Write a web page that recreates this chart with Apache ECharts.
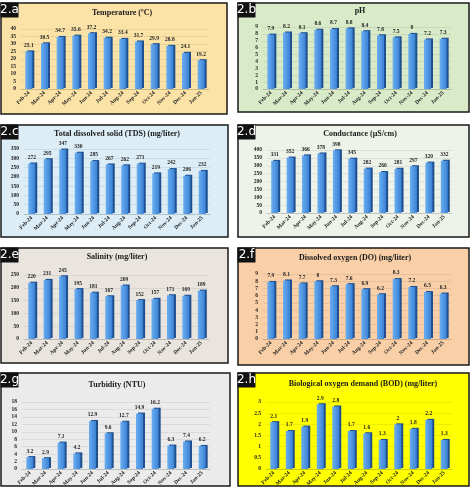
<!DOCTYPE html>
<html>
<head>
<meta charset="utf-8">
<script src="https://cdn.jsdelivr.net/npm/echarts@6/dist/echarts.min.js"></script>
<style>
  html, body { margin: 0; padding: 0; background: #fff; }
  #chart { width: 470px; height: 496px; }
</style>
</head>
<body>
<div id="chart"></div>
<script>
const months = ['Feb-24', 'Mar-24', 'Apr-24', 'May-24', 'Jun-24', 'Jul-24', 'Aug-24', 'Sep-24', 'Oct-24', 'Nov-24', 'Dec-24', 'Jan-25'];

const temperature = [25.1, 30.5, 34.7, 35.6, 37.2, 34.2, 33.4, 31.7, 29.9, 28.8, 24.1, 19.2];
const ph = [7.9, 8.2, 8.1, 8.6, 8.7, 8.8, 8.4, 7.8, 7.5, 8, 7.2, 7.3];
const tds = [272, 295, 347, 330, 285, 267, 262, 271, 219, 242, 206, 232];
const conductance = [331, 352, 366, 378, 398, 345, 282, 260, 281, 297, 320, 332];
const salinity = [220, 231, 245, 195, 181, 167, 209, 152, 157, 171, 169, 189];
const dissolvedOxygen = [7.9, 8.1, 7.7, 8, 7.3, 7.6, 6.9, 6.2, 8.3, 7.2, 6.5, 6.3];
const turbidity = [3.2, 2.9, 7.1, 4.2, 12.9, 9.6, 12.7, 14.9, 16.2, 6.3, 7.4, 6.2];
const bod = [2.1, 1.7, 1.9, 2.9, 2.8, 1.7, 1.6, 1.3, 2, 1.8, 2.2, 1.3];

const titles = ['Temperature (ºC)', 'pH', 'Total dissolved solid (TDS) (mg/liter)', 'Conductance (µS/cm)',
  'Salinity (mg/liter)', 'Dissolved oxygen (DO) (mg/liter)', 'Turbidity (NTU)', 'Biological oxygen demand (BOD) (mg/liter)'];
const panelTags = ['2.a', '2.b', '2.c', '2.d', '2.e', '2.f', '2.g', '2.h'];
const yMax = [40, 9, 350, 400, 250, 9, 18, 3];
const yStep = [5, 1, 50, 50, 50, 1, 2, 0.5];
const seriesData = [temperature, ph, tds, conductance, salinity, dissolvedOxygen, turbidity, bod];

// layout of each panel: box + plot area + title centre
const panels = [
  { box: [1, 3, 226, 111], bg: '#fbe3a7', grid: [21, 29, 188, 60], title: [122, 13] },
  { box: [238, 3, 231, 109], bg: '#d8eac8', grid: [263, 27, 188, 62], title: [360, 11] },
  { box: [1, 125, 227, 112], bg: '#dcedf6', grid: [24, 149, 186, 65], title: [117, 134] },
  { box: [238, 125, 231, 112], bg: '#eef3ea', grid: [267, 150, 185, 63], title: [360, 134] },
  { box: [1, 248, 227, 115], bg: '#e9e5de', grid: [24, 275, 185, 64], title: [117, 257] },
  { box: [238, 248, 231, 117], bg: '#f8cfa7', grid: [263, 274, 188, 65], title: [355, 258] },
  { box: [1, 373, 229, 113], bg: '#ebebeb', grid: [22, 402, 188, 67], title: [117, 385] },
  { box: [238, 373, 231, 113], bg: '#ffff00', grid: [266, 402, 186, 67], title: [363, 384] }
];

const serif = 'Liberation Serif';
var chart = echarts.init(document.getElementById('chart'));

const grids = [], xAxes = [], yAxes = [], series = [], graphics = [];
panels.forEach(function (p, i) {
  graphics.push({
    type: 'rect', z: -10,
    shape: { x: p.box[0], y: p.box[1], width: p.box[2], height: p.box[3] },
    style: { fill: p.bg, stroke: '#1a1a1a', lineWidth: 1.5 }
  });
  graphics.push({
    type: 'rect', z: 10,
    shape: { x: p.box[0] - 0.5, y: p.box[1] - 0.5, width: 18, height: 15 },
    style: { fill: '#111' }
  });
  graphics.push({
    type: 'text', z: 11,
    x: p.box[0] + 8.5, y: p.box[1] + 7,
    style: { text: panelTags[i], fill: '#fff', font: '12px "DejaVu Sans"', align: 'center', verticalAlign: 'middle' }
  });
  graphics.push({
    type: 'text', z: 11,
    x: p.title[0], y: p.title[1],
    style: { text: titles[i], fill: '#1a1a1a', font: 'bold 8px "' + serif + '"', align: 'center', verticalAlign: 'middle' }
  });
  grids.push({ left: p.grid[0], top: p.grid[1], width: p.grid[2], height: p.grid[3] });
  xAxes.push({
    type: 'category', gridIndex: i, data: months,
    axisLine: { show: true, lineStyle: { color: 'rgba(0,0,0,0.12)' } },
    axisTick: { show: false },
    axisLabel: { rotate: 45, fontSize: 5.5, fontFamily: serif, fontWeight: 'bold', color: '#222', margin: 3, interval: 0 }
  });
  yAxes.push({
    type: 'value', gridIndex: i, min: 0, max: yMax[i], interval: yStep[i],
    axisLine: { show: false }, axisTick: { show: false },
    splitLine: { lineStyle: { color: 'rgba(0,0,0,0.09)', width: 0.8 } },
    axisLabel: { fontSize: 5.5, fontFamily: serif, fontWeight: 'bold', color: '#222', margin: 5 }
  });
  series.push({
    type: 'bar', xAxisIndex: i, yAxisIndex: i, data: seriesData[i],
    barWidth: 7,
    itemStyle: {
      color: new echarts.graphic.LinearGradient(0, 0, 1, 0, [
        { offset: 0, color: '#6aaef0' },
        { offset: 1, color: '#3b82d6' }
      ]),
      shadowColor: '#1f4f8e', shadowOffsetX: 2, shadowOffsetY: -1, shadowBlur: 0
    },
    label: {
      show: true, position: 'top', distance: 3,
      fontSize: 5.5, fontFamily: serif, fontWeight: 'bold', color: '#222'
    }
  });
});

chart.setOption({
  animation: false,
  grid: grids,
  xAxis: xAxes,
  yAxis: yAxes,
  series: series,
  graphic: graphics
});
</script>
</body>
</html>
